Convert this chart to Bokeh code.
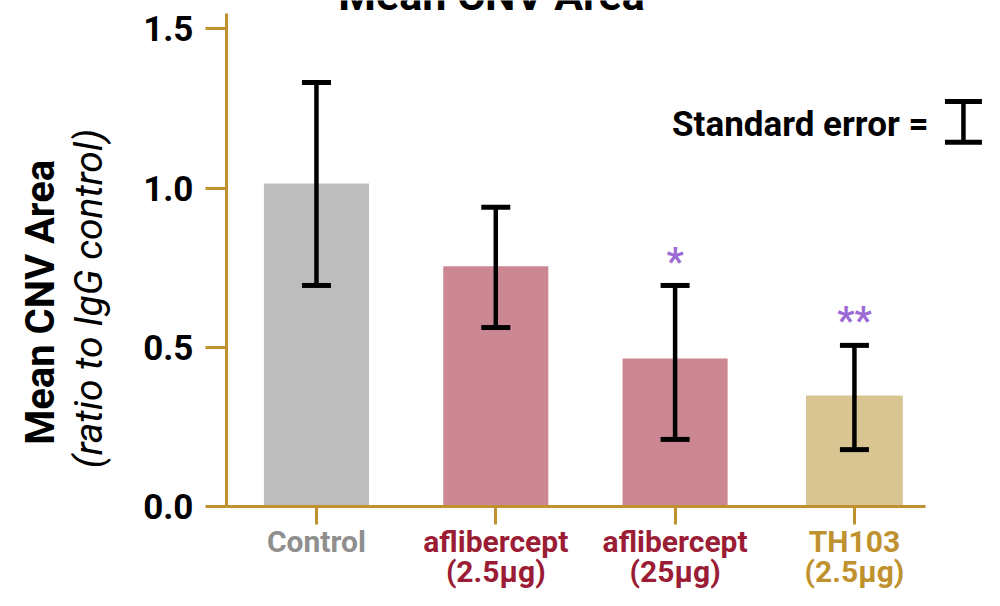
import math
from bokeh.plotting import figure
from bokeh.models import ColumnDataSource, Whisker, TeeHead, Label, FixedTicker, Range1d
from bokeh.embed import file_html
from bokeh.resources import INLINE
from bokeh.core.properties import value

# ---- data ----
cat_line1 = ["Control", "aflibercept", "aflibercept", "TH103"]
cat_line2 = ["", "(2.5μg)", "(25μg)", "(2.5μg)"]
means = [1.015, 0.755, 0.466, 0.350]
err_hi = [1.332, 0.940, 0.695, 0.507]
err_lo = [0.695, 0.563, 0.212, 0.180]
significance = ["", "", "*", "**"]
y_ticks = [0.0, 0.5, 1.0, 1.5]
y_tick_labels = ["0.0", "0.5", "1.0", "1.5"]
title_text = "Mean CNV Area"
y_label_main = "Mean CNV Area"
y_label_sub = "(ratio to IgG control)"
legend_text = "Standard error ="

# ---- styles ----
bar_colors = ["#BDBDBD", "#CB8893", "#CB8893", "#D9C592"]
label_colors = ["#8F8F8F", "#9B1C35", "#9B1C35", "#C0922F"]
bar_widths = [0.586, 0.586, 0.586, 0.54]
axis_color = "#C09131"
star_color = "#9D6BD5"
FONT = "Roboto"

xs = list(range(len(cat_line1)))
star_y = [h + 0.075 for h in err_hi]
src = ColumnDataSource(dict(x=xs, top=means, hi=err_hi, lo=err_lo, sig=significance, sy=star_y,
                            color=bar_colors, w=bar_widths, l1=cat_line1, l2=cat_line2,
                            lc=label_colors))

X0, X1 = -1.762, 3.770
Y0, Y1 = -0.262, 1.589
AX_LEFT = -0.502      # where the y axis sits
AX_RIGHT = 3.397      # where the x axis line ends
AX_TOP = 1.547        # where the y axis line ends

p = figure(width=992, height=590, x_range=Range1d(X0, X1), y_range=Range1d(Y0, Y1),
           output_backend="svg", toolbar_location=None, min_border=0)
p.outline_line_color = None
p.grid.visible = False
p.background_fill_color = "white"

# bars
p.vbar(x="x", top="top", width="w", fill_color="color", line_color=None, source=src)

# error bars
p.add_layout(Whisker(source=src, base="x", upper="hi", lower="lo", level="overlay",
                     line_color="black", line_width=4.5,
                     upper_head=TeeHead(size=29, line_width=5, line_color="black"),
                     lower_head=TeeHead(size=29, line_width=5, line_color="black")))

# significance stars
p.text(x="x", y="sy", text="sig", source=src, text_font=value(FONT), text_font_style="bold",
       text_font_size="38px", text_color=star_color, text_align="center",
       text_baseline="middle")

# category labels (two lines, coloured per group)
p.text(x="x", y=-0.1085, text="l1", source=src, text_font=value(FONT), text_font_style="bold",
       text_font_size="30px", text_color="lc", text_align="center", text_baseline="middle")
p.text(x="x", y=-0.2035, text="l2", source=src, text_font=value(FONT), text_font_style="bold",
       text_font_size="30px", text_color="lc", text_align="center", text_baseline="middle")

# axes
xa = p.xaxis[0]
xa.fixed_location = 0
xa.ticker = FixedTicker(ticks=xs)
xa.bounds = (AX_LEFT, AX_RIGHT)
xa.major_label_overrides = {i: "" for i in xs}
xa.axis_line_color = axis_color
xa.axis_line_width = 3
xa.major_tick_line_color = axis_color
xa.major_tick_line_width = 3
xa.major_tick_out = 18
xa.major_tick_in = 0
xa.minor_tick_line_color = None

ya = p.yaxis[0]
ya.fixed_location = AX_LEFT
ya.ticker = FixedTicker(ticks=y_ticks)
ya.major_label_overrides = {t: l for t, l in zip(y_ticks, y_tick_labels)}
ya.bounds = (0, AX_TOP)
ya.axis_line_color = axis_color
ya.axis_line_width = 3
ya.major_tick_line_color = axis_color
ya.major_tick_line_width = 3
ya.major_tick_out = 21
ya.major_tick_in = 0
ya.minor_tick_line_color = None
ya.major_label_text_font = FONT
ya.major_label_text_font_style = "bold"
ya.major_label_text_font_size = "35px"
ya.major_label_text_color = "black"
ya.major_label_standoff = 12

# y axis labels
p.add_layout(Label(x=-1.539, y=0.642, text=y_label_main, angle=math.pi / 2,
                   text_align="center", text_baseline="middle", text_font=FONT,
                   text_font_style="bold", text_font_size="40px", text_color="black"))
p.add_layout(Label(x=-1.267, y=0.654, text=y_label_sub, angle=math.pi / 2,
                   text_align="center", text_baseline="middle", text_font=FONT,
                   text_font_style="italic", text_font_size="39px", text_color="black"))

# title (cut off at the top like the original)
p.add_layout(Label(x=0.976, y=1.605, text=title_text, text_align="center",
                   text_baseline="middle", text_font=FONT, text_font_style="bold",
                   text_font_size="43px", text_color="black"))

# standard error legend
p.add_layout(Label(x=3.413, y=1.200, text=legend_text, text_align="right",
                   text_baseline="middle", text_font=FONT, text_font_style="bold",
                   text_font_size="35px", text_color="black"))
leg_src = ColumnDataSource(dict(x=[3.608], hi=[1.272], lo=[1.144]))
p.add_layout(Whisker(source=leg_src, base="x", upper="hi", lower="lo", level="overlay",
                     line_color="black", line_width=4.5,
                     upper_head=TeeHead(size=37, line_width=5, line_color="black"),
                     lower_head=TeeHead(size=37, line_width=5, line_color="black")))

open("out.html", "w").write(file_html(p, INLINE))
